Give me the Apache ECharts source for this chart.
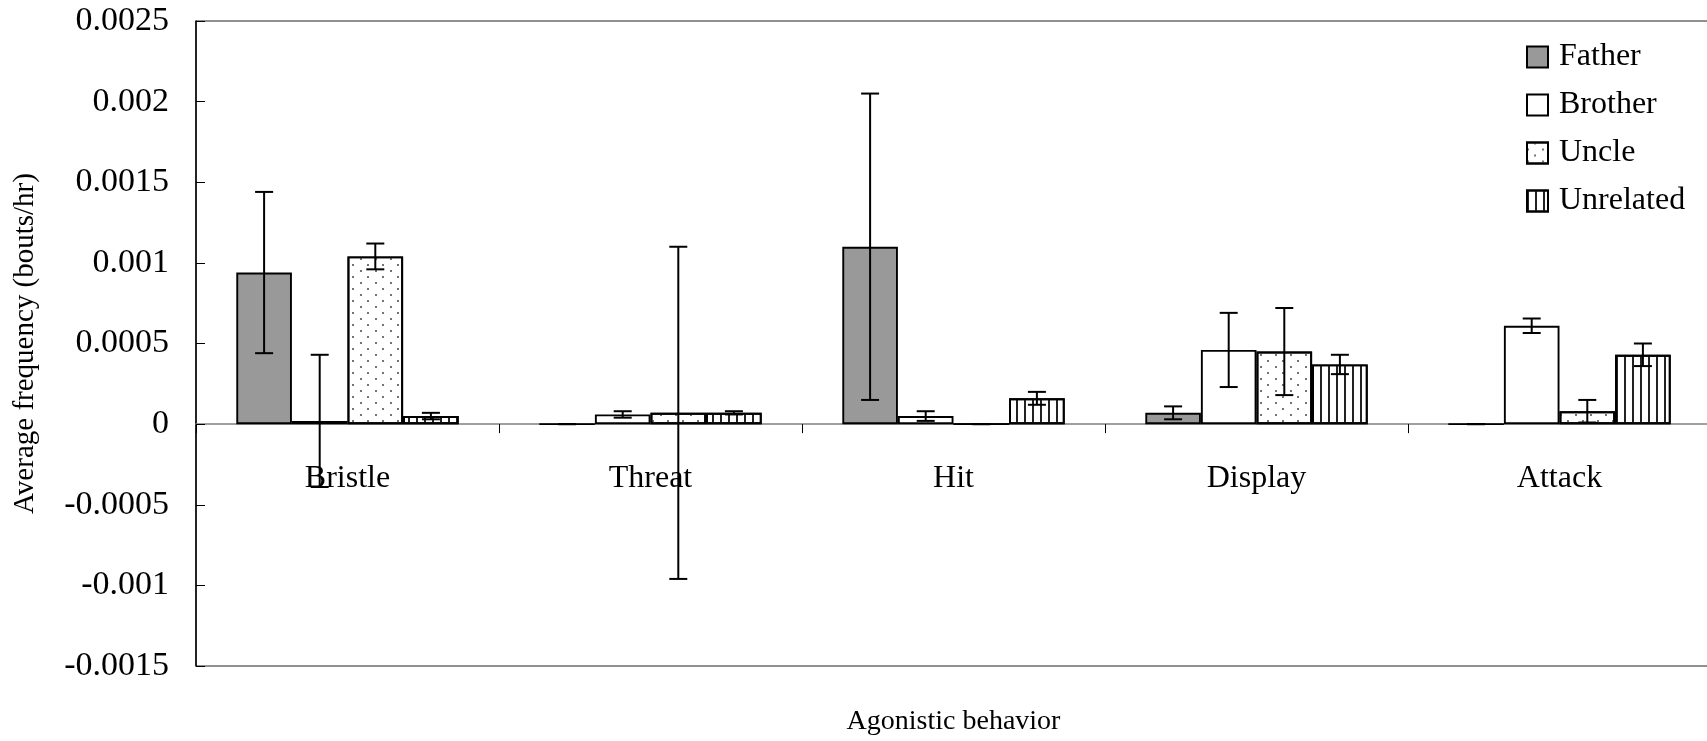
<!DOCTYPE html>
<html>
<head>
<meta charset="utf-8">
<script src="https://cdn.jsdelivr.net/npm/echarts@6/dist/echarts.min.js"></script>
<style>
  html, body { margin: 0; padding: 0; background: #fff; }
  #chart { width: 1707px; height: 741px; }
</style>
</head>
<body>
<div id="chart"></div>
<script>
// Agonistic behaviour frequencies by relatedness of the interacting bird
const categories = ['Bristle', 'Threat', 'Hit', 'Display', 'Attack'];
const groups = ['Father', 'Brother', 'Uncle', 'Unrelated'];

const father       = [0.00094, 0,       0.0011,  0.00007, 0];
const fatherErr    = [0.0005,  0,       0.00095, 0.00004, 0];
const brother      = [0.00002, 0.00006, 0.00005, 0.00046, 0.00061];
const brotherErr   = [0.00041, 0.00002, 0.00003, 0.00023, 0.000045];
const uncle        = [0.00104, 0.00007, 0,       0.00045, 0.00008];
const uncleErr     = [0.00008, 0.00103, 0,       0.00027, 0.00007];
const unrelated    = [0.00005, 0.00007, 0.00016, 0.00037, 0.00043];
const unrelatedErr = [0.00002, 0.00001, 0.00004, 0.00006, 0.00007];

const yMin = -0.0015, yMax = 0.0025, yStep = 0.0005;

const means = [father, brother, uncle, unrelated];
const errs = [fatherErr, brotherErr, uncleErr, unrelatedErr];

const FONT = "'Liberation Serif', 'Times New Roman', serif";
const CAT_GAP = 0.266;   // share of each category left empty around its bars

const fills = [
  { color: '#999999' },
  { color: '#ffffff' },
  { color: '#ffffff', decal: {
      symbol: 'circle', symbolSize: 1, color: '#444',
      dashArrayX: [[1.8, 12.2], [0, 7, 1.8, 5.2]],
      dashArrayY: [1.8, 3.8]
  } },
  { color: '#ffffff', decal: {
      symbol: 'rect', symbolSize: 1, color: '#222',
      dashArrayX: [1.6, 5.4],
      dashArrayY: [10, 0]
  } }
];

const barSeries = groups.map((name, gi) => ({
  name: name,
  type: 'bar',
  data: means[gi],
  barGap: '0%',
  barCategoryGap: (CAT_GAP * 100) + '%',
  itemStyle: Object.assign({ borderColor: '#000', borderWidth: 1.9 }, fills[gi]),
  emphasis: { disabled: true },
  z: 2
}));

// one error-bar item per bar: [category index, group index, mean, error]
const errData = [];
groups.forEach((g, gi) => {
  categories.forEach((c, ci) => {
    errData.push([ci, gi, means[gi][ci], errs[gi][ci]]);
  });
});

const errorSeries = {
  name: 'error',
  type: 'custom',
  data: errData,
  z: 5,
  silent: true,
  encode: { x: 0, y: 2 },
  renderItem: function (params, api) {
    const ci = api.value(0), gi = api.value(1);
    const v = api.value(2), e = api.value(3);
    const band = api.size([1, 0])[0];
    const barW = band * (1 - CAT_GAP) / groups.length;
    const x = api.coord([ci, 0])[0] + (gi - (groups.length - 1) / 2) * barW;
    const yTop = api.coord([ci, v + e])[1];
    const yBot = api.coord([ci, v - e])[1];
    const cap = 9;
    const style = { stroke: '#000', lineWidth: 2 };
    return {
      type: 'group',
      children: [
        { type: 'line', shape: { x1: x, y1: yTop, x2: x, y2: yBot }, style: style },
        { type: 'line', shape: { x1: x - cap, y1: yTop, x2: x + cap, y2: yTop }, style: style },
        { type: 'line', shape: { x1: x - cap, y1: yBot, x2: x + cap, y2: yBot }, style: style }
      ]
    };
  }
};

const chart = echarts.init(document.getElementById('chart'));
chart.setOption({
  animation: false,
  backgroundColor: '#fff',
  textStyle: { fontFamily: FONT, color: '#000' },
  grid: {
    left: 196, right: -4, top: 21, bottom: 75,
    outerBoundsMode: 'none',
    containLabel: false,
    show: true, borderColor: '#222', borderWidth: 1, backgroundColor: 'transparent'
  },
  legend: {
    data: groups,
    orient: 'vertical',
    left: 1521, top: 36,
    icon: 'rect',
    itemWidth: 21, itemHeight: 21,
    itemGap: 16,
    textStyle: { fontFamily: FONT, fontSize: 32, color: '#000', lineHeight: 32, padding: [0, 0, 0, 6] },
    selectedMode: false
  },
  xAxis: {
    type: 'category',
    data: categories,
    name: 'Agonistic behavior',
    nameLocation: 'middle',
    nameGap: 42,
    nameTextStyle: { fontFamily: FONT, fontSize: 28, color: '#000' },
    axisLine: { onZero: true, lineStyle: { color: '#808080', width: 1.5 } },
    axisTick: { show: true, length: 9, lineStyle: { color: '#000', width: 1 } },
    // labels sit just under the zero line, measured up from the plot's lower edge
    axisLabel: { fontFamily: FONT, fontSize: 32, color: '#000', margin: -203 },
    splitLine: { show: false }
  },
  yAxis: {
    type: 'value',
    min: yMin, max: yMax, interval: yStep,
    name: 'Average frequency (bouts/hr)',
    nameLocation: 'middle',
    nameGap: 156,
    nameRotate: 90,
    nameTextStyle: { fontFamily: FONT, fontSize: 29, color: '#000' },
    axisLine: { show: true, lineStyle: { color: '#000', width: 1.5 } },
    axisTick: { show: true, inside: true, length: 9, lineStyle: { color: '#000', width: 1 } },
    axisLabel: {
      fontFamily: FONT, fontSize: 34, color: '#000', margin: 27,
      formatter: v => String(+v.toFixed(4))
    },
    splitLine: { show: false }
  },
  series: barSeries.concat([errorSeries])
});
</script>
</body>
</html>
